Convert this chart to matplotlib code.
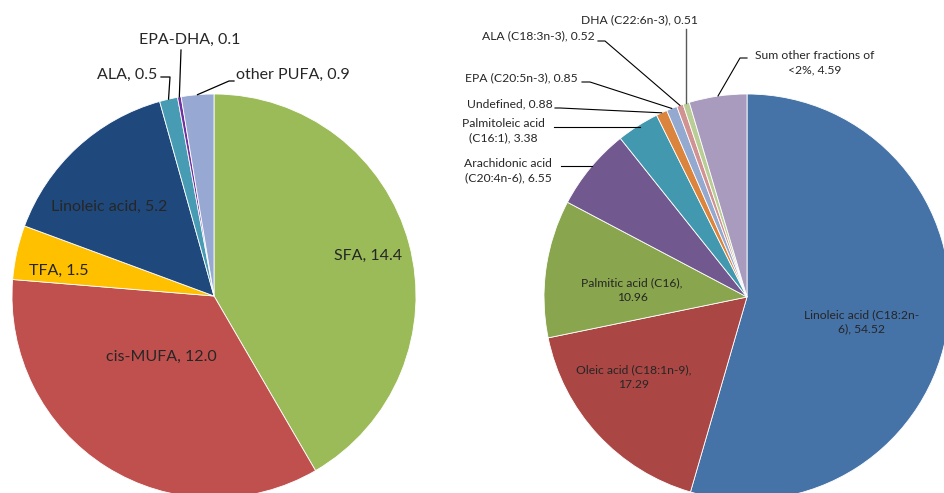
import numpy as np
import matplotlib
matplotlib.use("Agg")
import matplotlib.pyplot as plt

# ---- data ----
left_labels = ["SFA", "cis-MUFA", "TFA", "Linoleic acid", "ALA", "EPA-DHA", "other PUFA"]
left_values = [14.4, 12.0, 1.5, 5.2, 0.5, 0.1, 0.9]
left_colors = ["#9BBB59", "#C0504D", "#FFC000", "#1F497D", "#479CB4", "#7030A0", "#97A9D3"]

right_labels = ["Linoleic acid (C18:2n-\n6)", "Oleic acid (C18:1n-9),\n", "Palmitic acid (C16),\n",
                "Arachidonic acid\n(C20:4n-6)", "Palmitoleic acid\n(C16:1)", "Undefined",
                "EPA (C20:5n-3)", "ALA (C18:3n-3)", "DHA (C22:6n-3)", "Sum other fractions of\n<2%"]
right_values = [54.52, 17.29, 10.96, 6.55, 3.38, 0.88, 0.85, 0.52, 0.51, 4.59]
right_colors = ["#4572A7", "#AA4643", "#89A54E", "#71588F", "#4198AF", "#DB843D",
                "#93A9CF", "#D19392", "#B9CD96", "#A99BBD"]

W, H = 944, 493
fig = plt.figure(figsize=(W / 100, H / 100), dpi=100)
ax = fig.add_axes([0, 0, 1, 1])

def Y(p):
    return H - p

FONT = "Lato"
TXT = "#262626"

# ---- left pie ----
lc, lr = (214, Y(296)), 202
lw, _ = ax.pie(left_values, colors=left_colors, startangle=90, counterclock=False,
               center=lc, radius=lr, frame=True,
               wedgeprops=dict(edgecolor="white", linewidth=0.6))
# ---- right pie ----
rc, rr = (747, Y(297)), 203
rw, _ = ax.pie(right_values, colors=right_colors, startangle=90, counterclock=False,
               center=rc, radius=rr, frame=True,
               wedgeprops=dict(edgecolor="white", linewidth=0.6))
ax.set_xlim(0, W)
ax.set_ylim(0, H)
ax.set_axis_off()

def edge_pt(w, c, r, frac=1.0):
    a = np.deg2rad((w.theta1 + w.theta2) / 2)
    return c[0] + r * frac * np.cos(a), c[1] + r * frac * np.sin(a)

def fmt(v, nd):
    return f"{v:.{nd}f}"

LF = 11.5
# left labels inside
inside_left = {0: (368, 256), 1: (161, 357), 2: (59, 271), 3: (109, 207)}
for i, (x, y) in inside_left.items():
    ax.text(x, Y(y), f"{left_labels[i]}, {fmt(left_values[i], 1)}", ha="center", va="center",
            fontsize=LF, family=FONT, color=TXT)

# left outside labels with leaders
ax.text(157, Y(75), f"{left_labels[4]}, {fmt(left_values[4], 1)}", ha="right", va="center",
        fontsize=LF, family=FONT, color=TXT)
ex, ey = edge_pt(lw[4], lc, lr)
ax.plot([161, 170, ex], [Y(77), Y(77), ey], color="black", lw=0.9)

ax.text(190, Y(40), f"{left_labels[5]}, {fmt(left_values[5], 1)}", ha="center", va="center",
        fontsize=LF, family=FONT, color=TXT)
ex, ey = edge_pt(lw[5], lc, lr)
ax.plot([181, ex], [Y(50), ey], color="black", lw=0.9)

ax.text(236, Y(75), f"{left_labels[6]}, {fmt(left_values[6], 1)}", ha="left", va="center",
        fontsize=LF, family=FONT, color=TXT)
ex, ey = edge_pt(lw[6], lc, lr)
ax.plot([234, 229, ex], [Y(81), Y(81), ey], color="black", lw=0.9)

RF = 8.7
# right labels inside
inside_right = {0: (862, 322), 1: (634, 377), 2: (632, 290)}
for i, (x, y) in inside_right.items():
    lab = right_labels[i]
    if lab.endswith("\n"):
        s = f"{lab}{fmt(right_values[i], 2)}"
    else:
        s = f"{lab}, {fmt(right_values[i], 2)}"
    ax.text(x, Y(y), s, ha="center", va="center", fontsize=RF, family=FONT, color=TXT,
            linespacing=1.35)

LC = "black"
ax.text(639, Y(20), f"{right_labels[8]}, {fmt(right_values[8], 2)}", ha="center", va="center",
        fontsize=RF, family=FONT, color=TXT)
ex, ey = edge_pt(rw[8], rc, rr)
ax.plot([686, 686], [Y(29), ey], color="#595959", lw=1.0)

ax.text(595, Y(36), f"{right_labels[7]}, {fmt(right_values[7], 2)}", ha="right", va="center",
        fontsize=RF, family=FONT, color=TXT)
ex, ey = edge_pt(rw[7], rc, rr)
ax.plot([598, 605, ex], [Y(41), Y(41), ey], color=LC, lw=0.8)

ax.text(578, Y(78), f"{right_labels[6]}, {fmt(right_values[6], 2)}", ha="right", va="center",
        fontsize=RF, family=FONT, color=TXT)
ex, ey = edge_pt(rw[6], rc, rr)
ax.plot([582, 590, ex], [Y(82), Y(82), ey], color=LC, lw=0.8)

ax.text(553, Y(104), f"{right_labels[5]}, {fmt(right_values[5], 2)}", ha="right", va="center",
        fontsize=RF, family=FONT, color=TXT)
ex, ey = edge_pt(rw[5], rc, rr)
ax.plot([555, 560, ex], [Y(108), Y(108), ey], color=LC, lw=0.8)

ax.text(503, Y(131), f"{right_labels[4]}, {fmt(right_values[4], 2)}", ha="center", va="center",
        fontsize=RF, family=FONT, color=TXT, linespacing=1.35)
ax.plot([554, 640], [Y(127), Y(127)], color=LC, lw=0.8)

ax.text(508, Y(171), f"{right_labels[3]}, {fmt(right_values[3], 2)}", ha="center", va="center",
        fontsize=RF, family=FONT, color=TXT, linespacing=1.35)
ax.plot([561, 592], [Y(166), Y(166)], color=LC, lw=0.8)

ax.text(815, Y(63), f"{right_labels[9]}, {fmt(right_values[9], 2)}", ha="center", va="center",
        fontsize=RF, family=FONT, color=TXT, linespacing=1.35)
ax.plot([747, 740, 718], [Y(58), Y(58), Y(96)], color=LC, lw=0.8)

fig.savefig("out.png", dpi=100)
